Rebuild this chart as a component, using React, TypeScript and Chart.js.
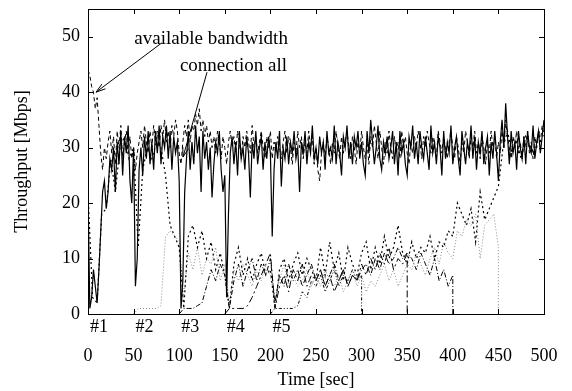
import React, { useEffect, useRef } from "react";
import { Chart, registerables } from "chart.js";

Chart.register(...registerables);

const FONT = '"Liberation Serif", "Times New Roman", serif';

// time axis for the two aggregate series (sampled every 2 s)
const mainStep = 2;
const mainTimes: number[] = [];
for (let t = 0; t <= 500; t += mainStep) mainTimes.push(t);

// "available bandwidth" (dashed)
const availableBandwidth = [
  44, 43, 41, 40, 37, 39, 34, 29, 26, 30,
  28, 31, 33, 29, 32, 27, 33, 30, 34, 28,
  31, 33, 29, 32, 28, 30, 26, 29, 31, 33,
  30, 34, 31, 29, 33, 30, 34, 31, 33, 30,
  34, 32, 35, 31, 33, 30, 34, 32, 35, 33,
  29, 27, 31, 34, 32, 35, 31, 34, 33, 36,
  34, 37, 33, 35, 32, 34, 31, 33, 30, 32,
  29, 33, 31, 28, 32, 30, 27, 31, 33, 30,
  32, 29, 33, 31, 28, 32, 30, 33, 31, 29,
  34, 30, 32, 29, 31, 33, 30, 28, 32, 30,
  33, 28, 31, 29, 32, 30, 28, 31, 33, 29,
  32, 30, 27, 31, 29, 33, 30, 32, 28, 31,
  29, 33, 30, 32, 27, 30, 26, 24, 29, 31,
  28, 32, 30, 27, 31, 29, 33, 30, 28, 32,
  29, 31, 33, 30, 28, 32, 30, 27, 31, 29,
  33, 30, 28, 31, 27, 32, 30, 34, 31, 28,
  33, 30, 27, 31, 29, 33, 30, 28, 32, 29,
  31, 28, 33, 30, 32, 29, 27, 31, 29, 32,
  30, 33, 31, 28, 32, 30, 33, 31, 29, 32,
  30, 28, 33, 31, 29, 32, 30, 28, 31, 33,
  30, 28, 32, 30, 27, 31, 29, 33, 31, 28,
  32, 30, 33, 29, 31, 28, 32, 30, 27, 31,
  29, 33, 30, 32, 28, 31, 29, 33, 30, 35,
  32, 30, 28, 32, 30, 33, 29, 31, 28, 32,
  30, 33, 29, 31, 28, 32, 30, 33, 31, 34,
  32,
];

// "connection all" (solid)
const connectionAll = [
  22, 1, 3, 8, 5, 2, 8, 15, 22, 24,
  19, 22, 28, 26, 30, 22, 31, 27, 33, 25,
  32, 29, 34, 24, 20, 30, 5, 10, 26, 30,
  25, 32, 28, 33, 27, 31, 26, 33, 29, 34,
  27, 32, 30, 34, 28, 33, 26, 32, 29, 31,
  24, 1, 6, 22, 28, 33, 26, 31, 27, 34,
  29, 32, 22, 33, 28, 31, 26, 30, 21, 27,
  31, 29, 33, 26, 22, 25, 3, 18, 29, 32,
  27, 31, 25, 33, 28, 30, 26, 32, 29, 21,
  31, 28, 33, 27, 30, 32, 26, 31, 28, 32,
  29, 14, 26, 31, 28, 33, 23, 30, 28, 32,
  27, 31, 29, 33, 28, 30, 22, 31, 29, 33,
  27, 31, 29, 34, 28, 30, 27, 32, 29, 31,
  26, 33, 29, 30, 28, 34, 27, 31, 29, 25,
  32, 30, 34, 28, 31, 27, 32, 30, 33, 28,
  31, 27, 25, 33, 29, 35, 31, 27, 30, 34,
  28, 26, 31, 29, 32, 28, 30, 33, 27, 31,
  25, 33, 29, 31, 27, 25, 32, 30, 34, 28,
  31, 27, 33, 30, 28, 32, 29, 26, 34, 29,
  31, 27, 32, 30, 25, 33, 28, 31, 29, 34,
  27, 30, 32, 28, 25, 33, 30, 27, 31, 29,
  34, 28, 32, 26, 31, 29, 33, 27, 30, 32,
  25, 31, 28, 33, 29, 24, 31, 35, 30, 38,
  32, 27, 33, 29, 31, 26, 33, 30, 28, 32,
  27, 33, 30, 29, 34, 28, 31, 33, 29, 32,
  35,
];

// individual connections (sampled every 5 s from their start time)
const connStep = 5;
const connectionLabels = ["#1", "#2", "#3", "#4", "#5"];
const connectionStarts = [0, 50, 100, 150, 200];
const connectionEnds = [500, 450, 400, 350, 300];

const connection1 = [
  22, 3, 2, 18, 19, 28, 22, 30, 32, 28,
  30, 12, 26, 30, 28, 31, 30, 25, 16, 14,
  12, 1, 14, 16, 12, 15, 10, 13, 8, 11,
  7, 1, 9, 12, 7, 10, 6, 9, 11, 7,
  8, 1, 8, 10, 6, 9, 11, 7, 10, 8,
  6, 12, 7, 13, 8, 11, 6, 12, 9, 7,
  11, 13, 8, 12, 9, 14, 10, 12, 16, 11,
  9, 13, 10, 12, 11, 14, 10, 13, 12, 15,
  14, 20, 18, 16, 19, 13, 22, 17, 19, 21,
  23, 30, 33, 29, 31, 28, 32, 30, 29, 33,
  33,
];
const connection2 = [
  0, 1, 1, 1, 1, 1, 1.5, 14, 15, 14,
  13, 3, 11, 8, 12, 7, 10, 9, 12, 6,
  9, 2, 8, 6, 9, 7, 5, 8, 6, 9,
  7, 2, 6, 9, 5, 7, 5, 6, 8, 5,
  7, 5, 8, 6, 5, 7, 4, 6, 8, 5,
  7, 4, 6, 5, 7, 9, 6, 8, 5, 7,
  9, 8, 11, 9, 7, 10, 12, 9, 13, 11,
  10, 15, 14, 17, 16, 18, 10, 16, 17, 18,
  12,
];
const connection3 = [
  0, 1, 1, 1, 1.5, 2, 5, 8, 6, 9,
  7, 1, 6, 9, 5, 8, 10, 6, 9, 7,
  10, 2, 7, 5, 9, 6, 8, 5, 7, 9,
  6, 8, 5, 7, 9, 6, 8, 5, 7, 6,
  8, 9, 7, 10, 8, 11, 9, 10, 12, 10,
  11, 10, 8, 11, 9, 7, 10, 6, 8, 5,
  7,
];
const connection4 = [
  0, 1, 1, 1, 1, 1.5, 3, 5, 7, 9,
  11, 1, 5, 7, 4, 8, 6, 9, 5, 7,
  6, 8, 5, 7, 4, 6, 8, 5, 7, 6,
  9, 7, 10, 8, 11, 9, 12, 8, 10, 9,
  11,
];
const connection5 = [
  0, 1, 1, 1, 1, 1, 1.5, 4, 3, 6,
  5, 7, 4, 6, 8, 5, 7, 6, 8, 6,
  7,
];
const connectionValues = [connection1, connection2, connection3, connection4, connection5];

const connStyles = [
  { color: "#000000", dash: [2, 3], width: 1.2 },
  { color: "#8a8a8a", dash: [1, 2], width: 1 },
  { color: "#000000", dash: [5, 2, 1, 2], width: 1 },
  { color: "#000000", dash: [7, 3, 2, 3], width: 1 },
  { color: "#000000", dash: [3, 2, 1, 2, 1, 2], width: 1 },
];

// annotation labels (data coordinates)
const annotations = [
  { text: "available bandwidth", tx: 135, ty: 49.6, from: [81, 48.9], to: [8.8, 40.0] },
  { text: "connection all", tx: 159.5, ty: 44.7, from: [130.5, 43.6], to: [104.2, 28.3] },
];

function connectionPoints(i: number) {
  const vals = connectionValues[i];
  const pts = vals.map((v, k) => ({ x: connectionStarts[i] + k * connStep, y: v }));
  if (connectionEnds[i] < 500) pts.push({ x: connectionEnds[i], y: 0 });
  return pts;
}

const framePlugin = {
  id: "frameTicks",
  afterDatasetsDraw(chart: any) {
    const { ctx, chartArea, scales } = chart;
    const { left, right, top, bottom } = chartArea;
    const xs = scales.x;
    const ys = scales.y;
    ctx.save();
    ctx.strokeStyle = "#000";
    ctx.lineWidth = 1;
    ctx.setLineDash([]);
    ctx.strokeRect(Math.round(left) + 0.5, Math.round(top) + 0.5, Math.round(right - left), Math.round(bottom - top));
    const tl = 5;
    ctx.beginPath();
    xs.ticks.forEach((t: any) => {
      const px = Math.round(xs.getPixelForValue(t.value)) + 0.5;
      ctx.moveTo(px, bottom);
      ctx.lineTo(px, bottom - tl);
      ctx.moveTo(px, top);
      ctx.lineTo(px, top + tl);
    });
    ys.ticks.forEach((t: any) => {
      const py = Math.round(ys.getPixelForValue(t.value)) + 0.5;
      ctx.moveTo(left, py);
      ctx.lineTo(left + tl, py);
      ctx.moveTo(right, py);
      ctx.lineTo(right - tl, py);
    });
    ctx.stroke();

    ctx.fillStyle = "#000";
    ctx.font = `18px ${FONT}`;
    ctx.textBaseline = "middle";
    ctx.textAlign = "left";
    connectionLabels.forEach((l, i) => {
      ctx.fillText(l, xs.getPixelForValue(connectionStarts[i]) + 2, bottom + 13);
    });

    ctx.font = `19px ${FONT}`;
    ctx.textAlign = "center";
    annotations.forEach((a) => {
      ctx.fillText(a.text, xs.getPixelForValue(a.tx), ys.getPixelForValue(a.ty));
      const x1 = xs.getPixelForValue(a.from[0]);
      const y1 = ys.getPixelForValue(a.from[1]);
      const x2 = xs.getPixelForValue(a.to[0]);
      const y2 = ys.getPixelForValue(a.to[1]);
      const ang = Math.atan2(y2 - y1, x2 - x1);
      const hl = 10;
      const spread = 0.3;
      ctx.beginPath();
      ctx.moveTo(x1, y1);
      ctx.lineTo(x2, y2);
      ctx.moveTo(x2 - hl * Math.cos(ang - spread), y2 - hl * Math.sin(ang - spread));
      ctx.lineTo(x2, y2);
      ctx.lineTo(x2 - hl * Math.cos(ang + spread), y2 - hl * Math.sin(ang + spread));
      ctx.stroke();
    });
    ctx.restore();
  },
};

export default function App() {
  const ref = useRef<HTMLCanvasElement | null>(null);
  useEffect(() => {
    if (!ref.current) return;
    const datasets: any[] = [
      {
        label: "connection all",
        data: mainTimes.map((t, i) => ({ x: t, y: connectionAll[i] })),
        borderColor: "#000",
        borderWidth: 1.2,
      },
      {
        label: "available bandwidth",
        data: mainTimes.map((t, i) => ({ x: t, y: availableBandwidth[i] })),
        borderColor: "#000",
        borderWidth: 1,
        borderDash: [4, 3],
      },
      ...connectionLabels.map((l, i) => ({
        label: l,
        data: connectionPoints(i),
        borderColor: connStyles[i].color,
        borderWidth: connStyles[i].width,
        borderDash: connStyles[i].dash,
      })),
    ];
    const chart = new Chart(ref.current, {
      type: "line",
      data: { datasets },
      options: {
        animation: false,
        responsive: false,
        layout: { padding: { left: 0, right: 28, top: 9, bottom: 0 } },
        elements: { point: { radius: 0 }, line: { tension: 0, borderJoinStyle: "miter" } },
        plugins: { legend: { display: false }, tooltip: { enabled: false } },
        scales: {
          x: {
            type: "linear",
            min: 0,
            max: 500,
            afterFit: (s: any) => { s.height = 77; s.paddingLeft = 0; s.paddingRight = 0; },
            grid: { display: false, drawTicks: false },
            border: { display: false },
            ticks: {
              stepSize: 50,
              autoSkip: false,
              maxRotation: 0,
              padding: 31,
              color: "#000",
              font: { family: FONT, size: 18 },
            },
            title: {
              display: true,
              text: "Time [sec]",
              color: "#000",
              font: { family: FONT, size: 18 },
              padding: { top: 0, bottom: 0 },
            },
          },
          y: {
            type: "linear",
            min: 0,
            max: 55,
            afterFit: (s: any) => { s.width = 88; s.paddingTop = 0; s.paddingBottom = 0; },
            grid: { display: false, drawTicks: false },
            border: { display: false },
            ticks: {
              stepSize: 10,
              includeBounds: false,
              padding: 8,
              color: "#000",
              font: { family: FONT, size: 18 },
            },
            title: {
              display: true,
              text: "Throughput [Mbps]",
              color: "#000",
              font: { family: FONT, size: 18 },
              padding: { top: 11, bottom: 0 },
            },
          },
        },
      },
      plugins: [framePlugin],
    });
    return () => chart.destroy();
  }, []);
  return (
    <canvas
      ref={ref}
      width={572}
      height={391}
      style={{ position: "absolute", left: 0, top: 0, width: 572, height: 391, background: "#fff" }}
    />
  );
}
